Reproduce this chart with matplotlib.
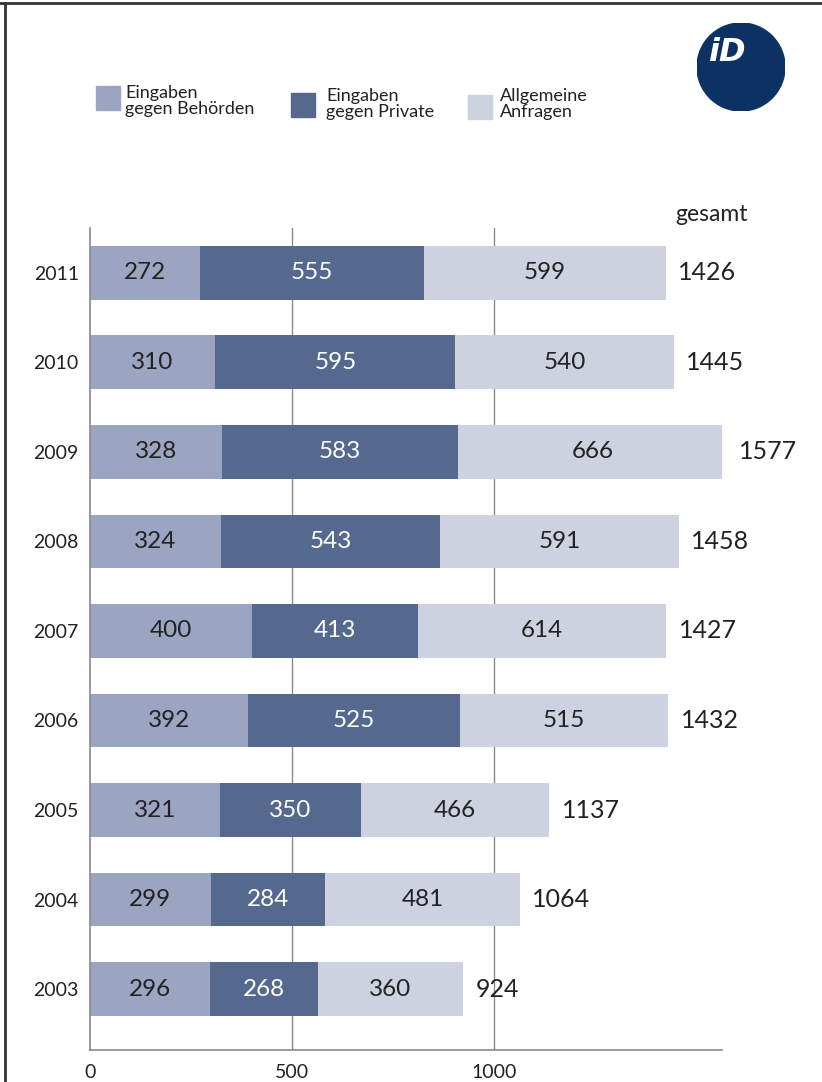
import matplotlib
matplotlib.use("Agg")
import matplotlib.pyplot as plt
from matplotlib.patches import Circle, Rectangle
from matplotlib.lines import Line2D

plt.rcParams['font.family'] = ['Lato', 'DejaVu Sans']

# Daten
jahre = ['2003', '2004', '2005', '2006', '2007', '2008', '2009', '2010', '2011']
behoerden = [296, 299, 321, 392, 400, 324, 328, 310, 272]
private = [268, 284, 350, 525, 413, 543, 583, 595, 555]
allgemein = [360, 481, 466, 515, 614, 591, 666, 540, 599]
x_ticks = [0, 500, 1000]

farbe_beh = '#9ba5c2'
farbe_priv = '#55698f'
farbe_allg = '#cdd1e0'
textfarbe = '#222222'
gitter = '#8a8a8a'

fig = plt.figure(figsize=(8.22, 10.82), dpi=100)
ax = fig.add_axes([90 / 822, 32 / 1082, 632 / 822, 822 / 1082])

y = list(range(len(jahre)))
links2 = behoerden
links3 = [a + b for a, b in zip(behoerden, private)]
gesamt = [a + b + c for a, b, c in zip(behoerden, private, allgemein)]

h = 0.6
ax.barh(y, behoerden, height=h, color=farbe_beh, zorder=2)
ax.barh(y, private, left=links2, height=h, color=farbe_priv, zorder=2)
ax.barh(y, allgemein, left=links3, height=h, color=farbe_allg, zorder=2)

for i in y:
    ax.text(behoerden[i] / 2, i, str(behoerden[i]), ha='center', va='center',
            fontsize=17.5, color=textfarbe, zorder=3)
    ax.text(links2[i] + private[i] / 2, i, str(private[i]), ha='center', va='center',
            fontsize=17.5, color='white', zorder=3)
    ax.text(links3[i] + allgemein[i] / 2, i, str(allgemein[i]), ha='center', va='center',
            fontsize=17.5, color=textfarbe, zorder=3)
    ax.annotate(str(gesamt[i]), (gesamt[i], i), xytext=(9, 0), textcoords='offset points',
                ha='left', va='center', fontsize=18, color=textfarbe,
                annotation_clip=False)

ax.text(1450, 8.65, 'gesamt', ha='left', va='center', fontsize=16.5, color=textfarbe)

ax.set_xlim(0, 1565)
ax.set_ylim(-0.68, 8.5)
ax.set_yticks(y)
ax.set_yticklabels(jahre, fontsize=14, color=textfarbe)
ax.set_xticks(x_ticks)
ax.set_xticklabels([str(v) for v in x_ticks], fontsize=14, color=textfarbe)
ax.tick_params(length=0, pad=8)
ax.tick_params(axis='x', pad=10)

for v in [500, 1000]:
    ax.axvline(v, color=gitter, lw=1, zorder=1)

for s in ['top', 'right']:
    ax.spines[s].set_visible(False)
ax.spines['left'].set_color(gitter)
ax.spines['bottom'].set_color(gitter)
ax.spines['left'].set_linewidth(1.2)
ax.spines['bottom'].set_linewidth(1.2)

# Legende
W, H = 822, 1082
def fx(px):
    return px / W
def fy(py):
    return 1 - py / H

legende = [
    (96, 86, farbe_beh, 'Eingaben\ngegen Behörden', 125, 101),
    (291, 93, farbe_priv, 'Eingaben\ngegen Private', 326, 104),
    (468, 95, farbe_allg, 'Allgemeine\nAnfragen', 500, 104),
]
for px, py, col, txt, tx, ty in legende:
    fig.patches.append(Rectangle((fx(px), fy(py + 24)), 24 / W, 24 / H,
                                 transform=fig.transFigure, color=col))
    fig.text(fx(tx), fy(ty), txt, ha='left', va='center', fontsize=13,
             color=textfarbe, linespacing=1.0)

# Logo
logo = fig.add_axes([fx(697), fy(111), 88 / W, 88 / H])
logo.set_xlim(-1, 1)
logo.set_ylim(-1, 1)
logo.set_aspect('equal')
logo.axis('off')
logo.add_patch(Circle((0, 0), 1, color='#0b3263'))
logo.text(-0.33, 0.33, 'iD', ha='center', va='center', fontsize=23, color='white',
          fontweight='bold', fontstyle='italic', family='DejaVu Sans')

# Rahmen
fig.add_artist(Line2D([0, 1], [fy(3), fy(3)], transform=fig.transFigure,
                      color='#333333', lw=2))
fig.add_artist(Line2D([fx(5), fx(5)], [0, fy(3)], transform=fig.transFigure,
                      color='#333333', lw=2))

fig.savefig('out.png', dpi=100)
